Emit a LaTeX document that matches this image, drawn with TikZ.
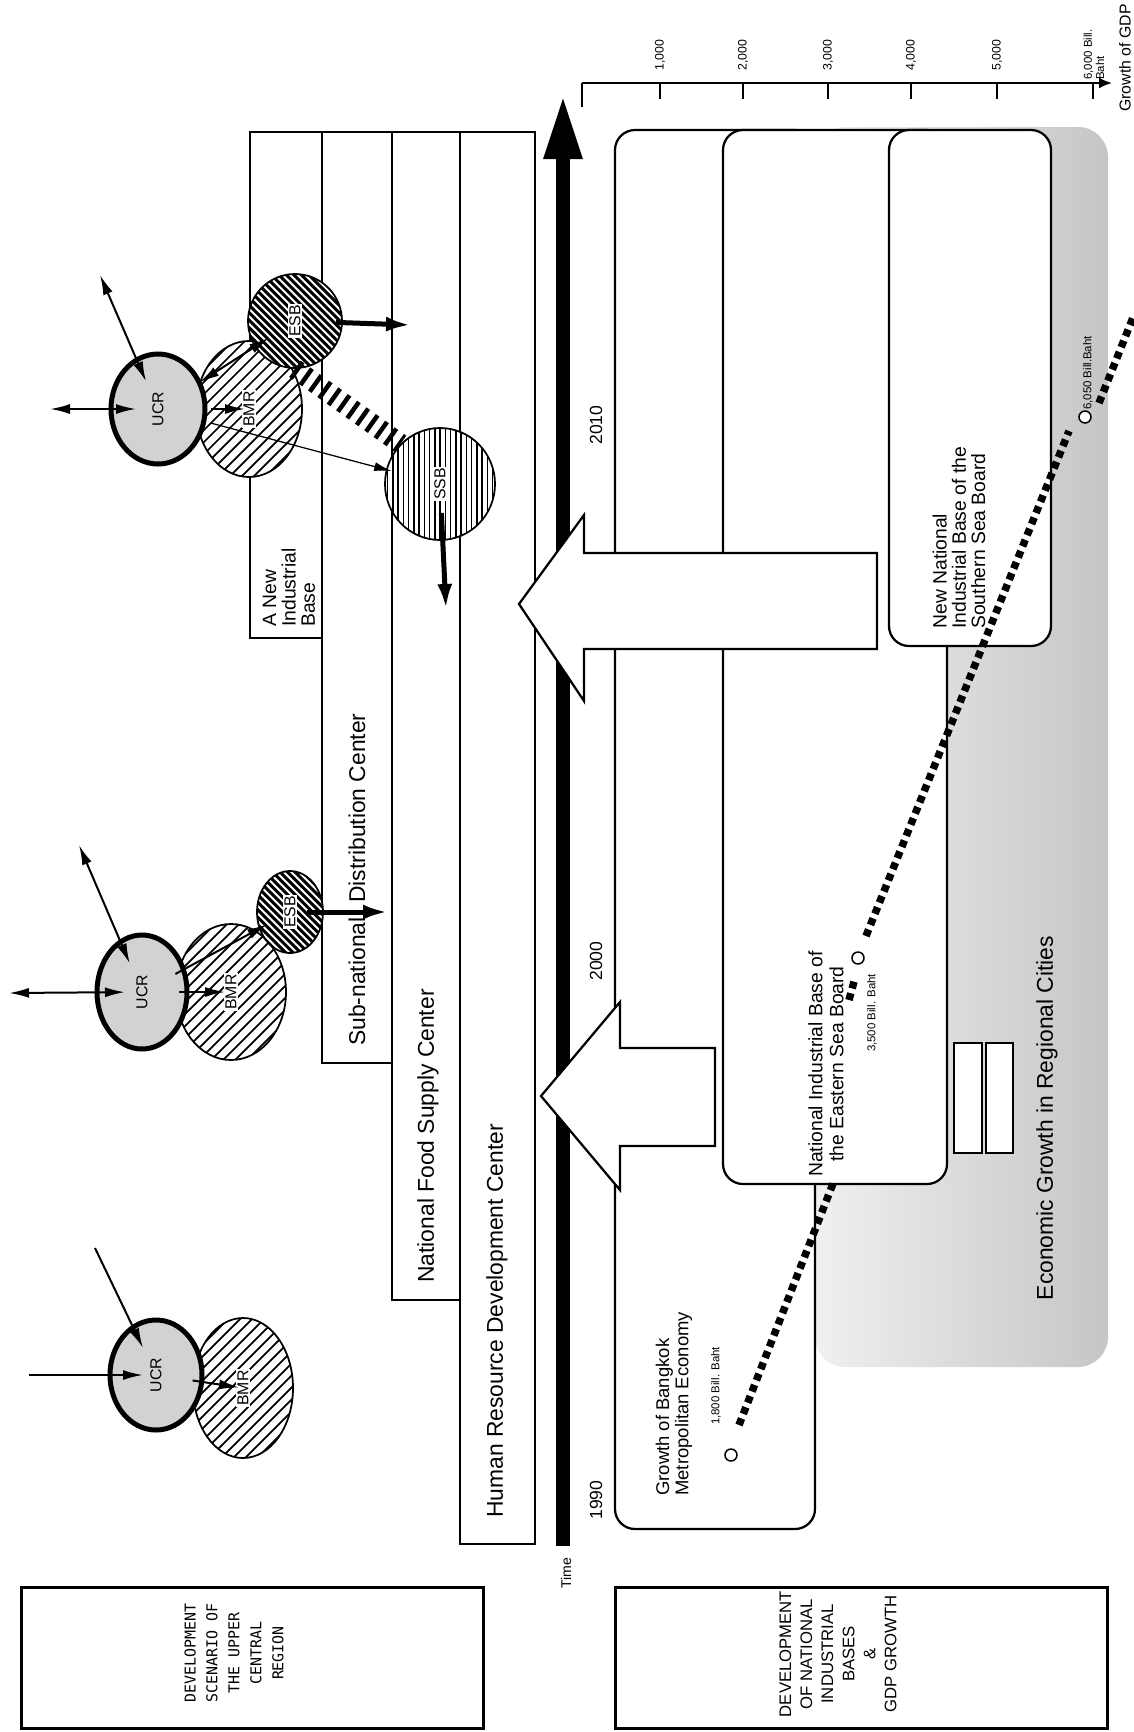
\documentclass[tikz,border=0pt]{standalone}
\usepackage{fontspec}
\usepackage{graphicx}
\setmainfont{Liberation Sans}
\newfontfamily\plotfont{DejaVu Sans Mono}
\usetikzlibrary{arrows.meta,shapes.geometric,calc}
\newcommand{\rlab}[1]{\rotatebox{90}{\setlength{\fboxsep}{0.8pt}\colorbox{white}{#1}}}
\tikzset{
  >=Latex,
  bar/.style={draw, line width=0.45mm, fill=white},
  bar label/.style={rotate=90, anchor=west, inner sep=0, align=left, font=\fontsize{13}{15}\selectfont},
  base box/.style={draw, line width=0.45mm, fill=white, rounded corners=4mm},
  base label/.style={rotate=90, inner sep=0, font=\fontsize{11}{12}\selectfont},
  big arrow/.style={draw, line width=0.45mm, fill=white},
  time axis/.style={line width=2.8mm, -{Triangle[length=13mm, width=7mm]}},
  gdp/.style={line width=1.5mm, dash pattern=on 1.4mm off 1mm},
  gdp mark/.style={circle, draw, line width=0.3mm, fill=white, minimum size=2.4mm, inner sep=0},
  small label/.style={rotate=90, inner sep=0, font=\fontsize{6.5}{7}\selectfont},
  tick label/.style={rotate=90, inner sep=0, font=\fontsize{7}{7}\selectfont},
  year/.style={rotate=90, inner sep=0, font=\fontsize{10}{10}\selectfont},
  region/.style={ellipse, draw, inner sep=0, font=\fontsize{9}{9}\selectfont},
  region ucr/.style={region, line width=1mm, fill=gray!35},
  region bmr/.style={region, line width=0.35mm, fill=white, path picture={
      \foreach \k in {-16,...,16}
        \draw[line width=0.35mm] ($(path picture bounding box.center)+(\k*2.4mm-25mm,-25mm)$) -- ++(50mm,50mm);}},
  region esb/.style={region, line width=0.35mm, fill=white, path picture={
      \foreach \k in {-16,...,16}
        \draw[line width=0.6mm] ($(path picture bounding box.center)+(\k*1.5mm-20mm,20mm)$) -- ++(40mm,-40mm);}},
  region ssb/.style={region, line width=0.35mm, fill=white, path picture={
      \foreach \k in {-30,...,30}
        \draw[line width=0.3mm] ($(path picture bounding box.center)+(\k*1.05mm,-15mm)$) -- ++(0,30mm);}},
  link/.style={line width=0.4mm, -{Latex[length=4mm, width=2mm]}},
  link both/.style={line width=0.4mm, {Latex[length=4mm, width=2mm]}-{Latex[length=4mm, width=2mm]}},
  link thin/.style={line width=0.25mm, -{Latex[length=3.5mm, width=1.8mm]}},
  link fat/.style={line width=1mm, -{Latex[length=5mm, width=3mm]}},
  rail/.style={line width=4mm, dash pattern=on 0.9mm off 1.4mm},
  title box/.style={draw, line width=0.6mm, inner sep=0},
}

\begin{document}
\begin{tikzpicture}[x=0.2mm, y=-0.2mm]
  \useasboundingbox (0,0) rectangle (1134,1732);

  % ---- shaded regional growth behind the base boxes
  \shade[left color=gray!12, right color=gray!45, rounded corners=6mm] (815,127) rectangle (1108,1367);

  % ---- national industrial bases
  \draw[base box] (615,130) rectangle (815,1529);
  \draw[base box] (723,130) rectangle (947,1184);
  \draw[base box] (889,130) rectangle (1051,646);
  \draw[bar] (954,1043) rectangle (982,1153);
  \draw[bar] (986,1043) rectangle (1013,1153);

  \node[base label, anchor=west, align=left, font=\fontsize{10.5}{11}\selectfont] (lbkk) at (674,1496) {Growth of Bangkok\\Metropolitan Economy};
  \node[base label, align=center] (lesb) at (826,1064) {National Industrial Base of\\the Eastern Sea Board};
  \node[base label, anchor=west, align=left, font=\fontsize{11}{11}\selectfont] (lssb) at (959,629) {New National\\Industrial Base of the\\Southern Sea Board};
  \node[base label, font=\fontsize{13}{13}\selectfont] (lreg) at (1047,1118) {Economic Growth in Regional Cities};

  % ---- GDP growth line
  \node[gdp mark] (g1800) at (731,1455) {};
  \node[gdp mark] (g3500) at (858,958) {};
  \node[gdp mark] (g6050) at (1085,417) {};
  \coordinate (gA0) at (739,1425); \coordinate (gA1) at (834,1181);
  \coordinate (gB0) at (849,1000); \coordinate (gB1) at (855,978);
  \coordinate (gC0) at (866,936);  \coordinate (gC1) at (1069,431);
  \coordinate (gD0) at (1099,403); \coordinate (gD1) at (1134,315);
  \draw[gdp] (gA0) -- (gA1);
  \draw[gdp] (gB0) -- (gB1);
  \draw[gdp] (gC0) -- (gC1);
  \draw[gdp] (gD0) -- (gD1);
  \node[small label] (l1800) at (716,1386) {1,800 Bill. Baht};
  \node[small label] (l3500) at (872,1013) {3,500 Bill. Baht};
  \node[small label] (l6050) at (1088,373) {6,050 Bill.Baht};

  % ---- GDP scale
  \coordinate (ax0) at (582,83); \coordinate (ax1) at (1112,83);
  \draw[line width=0.4mm, -{Latex[length=2.6mm, width=2.2mm]}] (ax0) -- (ax1);
  \draw[line width=0.4mm] (582,83) -- (582,107);
  \foreach \x/\v in {660/{1,000}, 743/{2,000}, 828/{3,000}, 911/{4,000}, 997/{5,000}} {
    \draw[line width=0.4mm] (\x,83) -- (\x,99);
    \node[tick label] (tk\x) at (\x,55) {\v};
  }
  \draw[line width=0.4mm] (1093,83) -- (1093,99);
  \node[tick label, anchor=west, align=left, font=\fontsize{6.5}{7}\selectfont] (tk6) at (1094,80) {6,000 Bill.\\Baht};
  \node[rotate=90, inner sep=0, font=\fontsize{9}{9}\selectfont] (gdpttl) at (1125,58) {Growth of GDP};

  % ---- functional bars of the region
  \draw[bar] (250,132) rectangle (322,638);
  \draw[bar] (322,132) rectangle (392,1063);
  \draw[bar] (392,132) rectangle (460,1300);
  \draw[bar] (460,132) rectangle (535,1544);
  \node[bar label, font=\fontsize{11}{11}\selectfont] (lnib) at (289,627) {A New\\Industrial\\Base};
  \node[bar label] (lsnd) at (357,1046) {Sub-national};
  \node[bar label] (ldst) at (357,903) {Distribution Center};
  \node[bar label] (lfood) at (428,1283) {National Food Supply Center};
  \node[bar label] (lhrd) at (497,1518) {Human Resource Development Center};

  % ---- scenario 1990
  \node[region bmr, minimum width=20mm, minimum height=28mm] (bmrA) at (243,1388) {\rlab{BMR}};
  \node[region ucr, minimum width=18.4mm, minimum height=22mm] (ucrA) at (156,1375) {\rotatebox{90}{UCR}};
  \coordinate (inA) at (29,1375);
  \coordinate (dgA) at (95,1248);
  \draw[link, shorten >=2.6mm] (inA) -- (ucrA.center);
  \draw[link, shorten >=6mm] (dgA) -- (ucrA.center);
  \draw[link, shorten <=7.4mm, shorten >=0.8mm] (ucrA.center) -- (bmrA.center);

  % ---- scenario 2000
  \node[region bmr, minimum width=22mm, minimum height=27.2mm] (bmrB) at (231,992) {\rlab{BMR}};
  \node[region ucr, minimum width=18mm, minimum height=22.8mm] (ucrB) at (142,992) {\rotatebox{90}{UCR}};
  \node[region esb, minimum width=13.2mm, minimum height=16.4mm] (esbB) at (290,912) {\rlab{ESB}};
  \coordinate (inB) at (9,993);
  \coordinate (dgB) at (79,845);
  \coordinate (sndIn) at (388,912);
  \draw[link both, shorten >=3.4mm] (inB) -- (ucrB.center);
  \draw[link both, shorten >=6.2mm] (dgB) -- (ucrB.center);
  \draw[link, shorten <=7.4mm, shorten >=1.2mm] (ucrB.center) -- (bmrB.center);
  \draw[link, shorten <=7.6mm, shorten >=5.2mm] (ucrB.center) -- (esbB.center);
  \draw[link fat, shorten <=3.4mm] (esbB.center) -- (sndIn);

  % ---- scenario 2010
  \node[region bmr, minimum width=21.2mm, minimum height=27.2mm] (bmrC) at (249,409) {\rlab{BMR}};
  \node[region ucr, minimum width=18.8mm, minimum height=22mm] (ucrC) at (158,409) {\rotatebox{90}{UCR}};
  \node[region esb, minimum width=18.8mm, minimum height=18.8mm] (esbC) at (295,321) {\rlab{ESB}};
  \node[region ssb, minimum width=22mm, minimum height=22.4mm] (ssbC) at (440,484) {\rlab{SSB}};
  \coordinate (inC) at (50,409);
  \coordinate (dgC) at (100,275);
  \coordinate (esbOut) at (411,325);
  \coordinate (ssbOut) at (446,609);
  \draw[rail] (esbC.south) -- (ssbC.north west);
  \draw[link both, shorten >=4.4mm] (inC) -- (ucrC.center);
  \draw[link both, shorten >=6mm] (dgC) -- (ucrC.center);
  \draw[link, shorten <=10.6mm, shorten >=0.8mm] (ucrC.center) -- (bmrC.center);
  \draw[link both, shorten <=9.8mm, shorten >=6.2mm] (ucrC.center) -- (esbC.center);
  \draw[link thin, shorten <=10.9mm, shorten >=10mm] (ucrC.center) -- (ssbC.center);
  \draw[link fat, shorten <=8.2mm] (esbC.center) -- (esbOut);
  \draw[link fat, shorten <=5.8mm] (ssbC.center) -- (ssbOut);

  % ---- time axis and years
  \coordinate (t0) at (563,1546); \coordinate (t1) at (563,94);
  \draw[time axis] (t0) -- (t1);
  \node[year] (y2010) at (596,425) {2010};
  \node[year] (y2000) at (596,961) {2000};
  \node[year] (y1990) at (596,1500) {1990};
  \node[rotate=90, inner sep=0, font=\fontsize{8}{8}\selectfont] (ltime) at (566,1573) {Time};

  % ---- feedback of the bases into the region
  \draw[big arrow] (519,604) -- (584,515) -- (584,553) -- (877,553) -- (877,649) -- (584,649) -- (584,701) -- cycle;
  \draw[big arrow] (541,1096) -- (620,1002) -- (620,1048) -- (715,1048) -- (715,1146) -- (620,1146) -- (620,1190) -- cycle;

  % ---- row titles
  \node[title box, minimum width=92.2mm, minimum height=28.2mm] (ttlA) at (252.5,1657.5) {};
  \node[rotate=90, align=center, inner sep=0, font=\plotfont\fontsize{8.5}{12.5}\selectfont] (ttlAtxt) at (234,1653) {DEVELOPMENT\\SCENARIO OF\\THE UPPER\\CENTRAL\\REGION};
  \node[title box, minimum width=98.4mm, minimum height=28.2mm] (ttlB) at (861,1657.5) {};
  \node[rotate=90, align=center, inner sep=0, font=\fontsize{9.5}{12}\selectfont] (ttlBtxt) at (838,1654) {DEVELOPMENT\\OF NATIONAL\\INDUSTRIAL\\BASES\\\&\\GDP GROWTH};

\end{tikzpicture}
\end{document}
